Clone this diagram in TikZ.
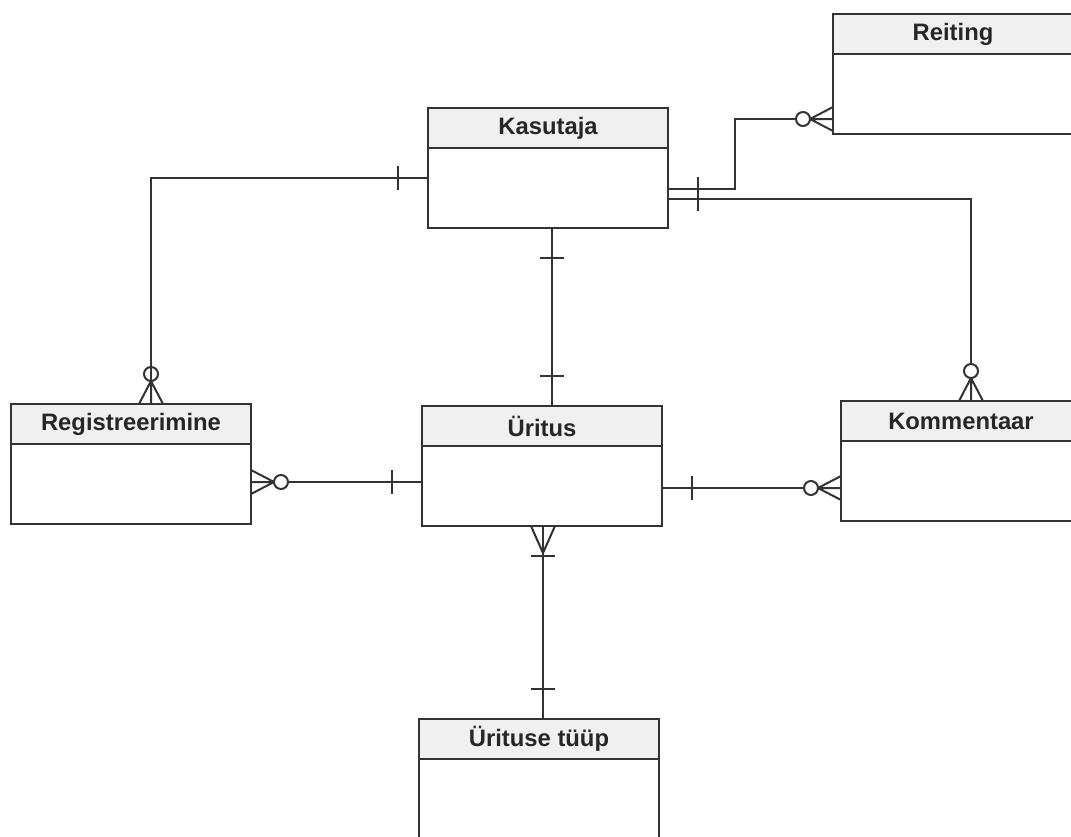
\documentclass[tikz,border=0pt]{standalone}
\usepackage{fontspec}
\setmainfont{Liberation Sans}
\usetikzlibrary{calc}
\definecolor{ln}{HTML}{333333}
\definecolor{hd}{HTML}{F0F0F0}
\tikzset{
  x=1pt, y=1pt,
  entity/.style={draw=ln, line width=2pt, minimum width=240pt, minimum height=120pt, inner sep=0pt, outer sep=0pt, fill=white},
  hdr/.style={draw=ln, line width=2pt, fill=hd, minimum width=240pt, minimum height=40pt, inner sep=0pt, outer sep=0pt, anchor=north, font=\fontsize{23.8}{28}\selectfont\bfseries, text=black!85},
  conn/.style={draw=ln, line width=2pt},
  zmany/.pic={\draw[conn] (0,12)--(23,0) (0,-12)--(23,0) (0,0)--(23,0); \draw[conn] (30,0) circle[radius=7pt];},
  omany/.pic={\draw[conn] (0,12)--(27,0) (0,-12)--(27,0); \draw[conn] (30,-12)--(30,12);},
  onebar/.pic={\draw[conn] (30,-12)--(30,12);}
}
\begin{document}
\begin{tikzpicture}
\useasboundingbox (0,0) rectangle (1071,-836);
\clip (0,0) rectangle (1071,-836);
% entities
\node[entity] (kas) at (548,-168) {};
\node[hdr] (kash) at (kas.north) {Kasutaja};
\node[entity] (rei) at (953,-74) {};
\node[hdr] (reih) at (rei.north) {Reiting};
\node[entity] (reg) at (131,-464) {};
\node[hdr] (regh) at (reg.north) {Registreerimine};
\node[entity] (uri) at (542,-466) {};
\node[hdr] (urih) at (uri.north) {Üritus};
\node[entity] (kom) at (961,-461) {};
\node[hdr] (komh) at (kom.north) {Kommentaar};
\node[entity] (tup) at (539,-779) {};
\node[hdr] (tuph) at (tup.north) {Ürituse tüüp};
% connectors
\coordinate (c1a) at ($(kas.west)+(0,-10)$);
\coordinate (c1b) at ($(reg.north)+(20,0)$);
\draw[conn] (c1a) -| (c1b);
\pic[rotate=180] at (c1a) {onebar};
\pic[rotate=90] at (c1b) {zmany};

\coordinate (c2a) at ($(kas.south)+(4,0)$);
\coordinate (c2b) at ($(uri.north)+(10,0)$);
\draw[conn] (c2a) -- (c2b);
\pic[rotate=-90] at (c2a) {onebar};
\pic[rotate=90] at (c2b) {onebar};

\coordinate (c3a) at ($(reg.east)+(0,-18)$);
\coordinate (c3b) at ($(uri.west)+(0,-16)$);
\draw[conn] ($(c3a)+(37,0)$) -- (c3b);
\pic at (c3a) {zmany};
\pic[rotate=180] at (c3b) {onebar};

\coordinate (c4a) at ($(uri.east)+(0,-22)$);
\coordinate (c4b) at ($(kom.west)+(0,-27)$);
\draw[conn] (c4a) -- ($(c4b)+(-37,0)$);
\pic at (c4a) {onebar};
\pic[rotate=180] at (c4b) {zmany};

\coordinate (c5a) at ($(kas.east)+(0,-21)$);
\coordinate (c5b) at ($(rei.west)+(0,-45)$);
\draw[conn] (c5a) -- ++(67,0) |- ($(c5b)+(-37,0)$);
\pic at (c5a) {onebar};
\pic[rotate=180] at (c5b) {zmany};

\coordinate (c6a) at ($(kas.east)+(0,-31)$);
\coordinate (c6b) at ($(kom.north)+(10,0)$);
\draw[conn] (c6a) -| ($(c6b)+(0,37)$);
\pic at (c6a) {onebar};
\pic[rotate=90] at (c6b) {zmany};

\coordinate (c7a) at ($(uri.south)+(1,0)$);
\coordinate (c7b) at ($(tup.north)+(4,0)$);
\draw[conn] (c7a) -- (c7b);
\pic[rotate=-90] at (c7a) {omany};
\pic[rotate=90] at (c7b) {onebar};
\end{tikzpicture}
\end{document}
